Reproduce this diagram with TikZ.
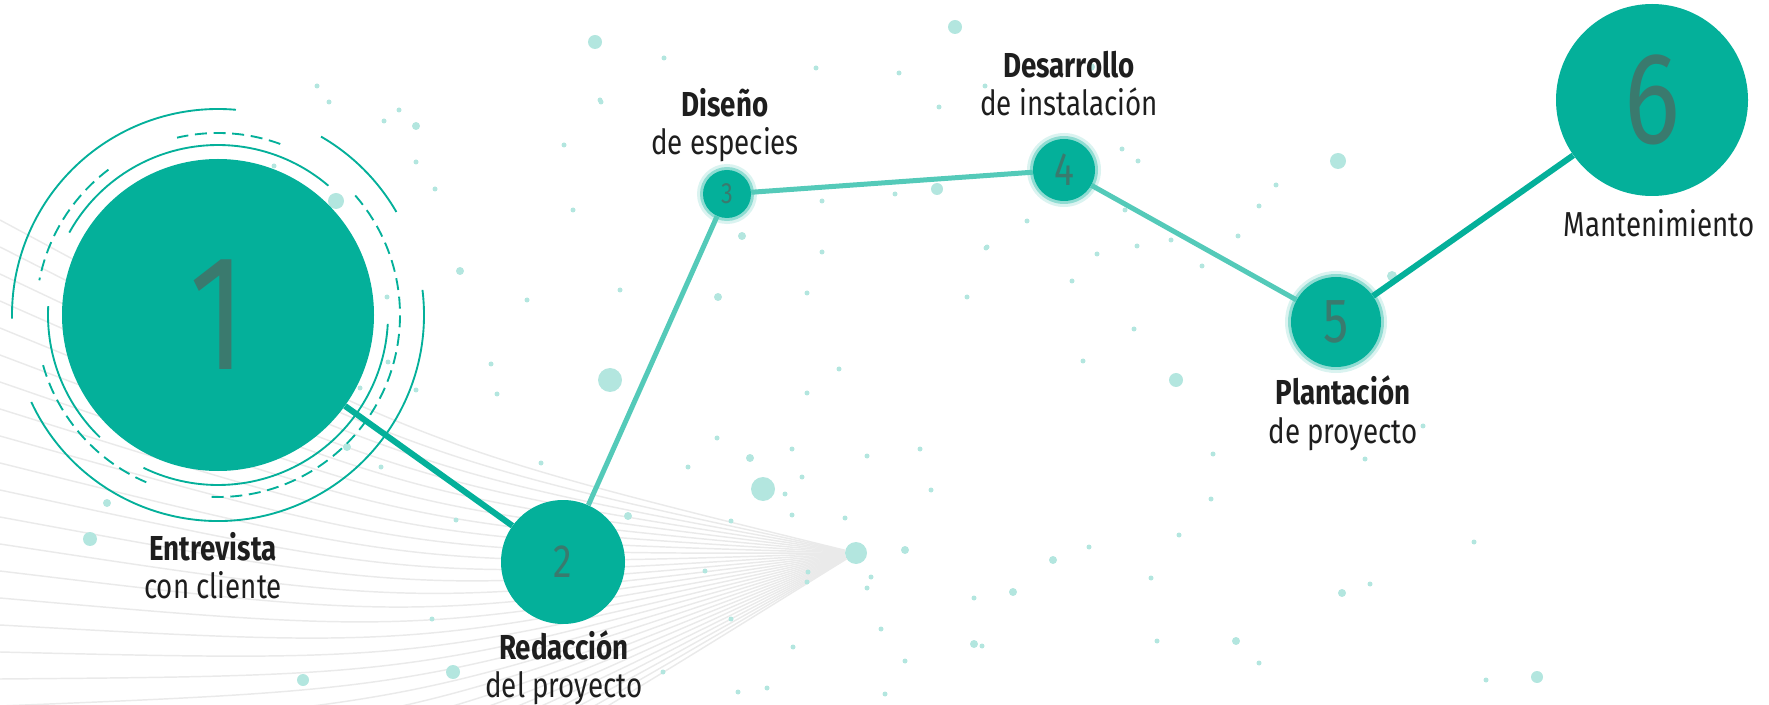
\documentclass[tikz,border=0pt]{standalone}
\usepackage{fontspec}
\setmainfont{Fira Sans}[FakeStretch=0.8]
\newfontfamily\numfont{Fira Sans}[FakeStretch=0.8]
\usepackage{xcolor}
\usepackage{tikz}

\definecolor{stepteal}{RGB}{4,176,154}
\definecolor{steplight}{RGB}{84,202,185}
\definecolor{numgrey}{RGB}{58,122,110}
\definecolor{dotteal}{RGB}{179,230,223}
\definecolor{fangrey}{RGB}{234,234,234}
\definecolor{txtdark}{RGB}{30,30,30}

\tikzset{
  stepnode/.style={circle, fill=stepteal, inner sep=0pt, text=numgrey},
  glow/.style={preaction={draw=stepteal, draw opacity=.15, line width=9pt},
               preaction={draw=stepteal, draw opacity=.35, line width=4.5pt}},
  stepline/.style={stepteal, line width=3.75pt},
  ring/.style={stepteal, line width=1.4pt},
  dashring/.style={ring, dash pattern=on 9pt off 5pt},
  fanline/.style={fangrey, line width=1.1pt},
  fandot/.style={circle, fill=dotteal, inner sep=0pt, minimum size=16.5pt},
  steptext/.style={anchor=base, align=center, inner sep=0pt, text=txtdark,
                   font=\fontsize{26}{28.5}\selectfont},
}

\begin{document}
\begin{tikzpicture}[x=0.75pt,y=0.75pt,yscale=-1,xscale=1]
\useasboundingbox (0,0) rectangle (1769,705);

%Fan of lines
\node[fandot] (fan) at (856,553) {};
\begin{scope}
\clip (0,0) rectangle (1769,705);
\foreach \y in {220,247,...,1000}
  \draw[fanline] (0,\y) .. controls (420,{0.5*\y+336}) .. (fan);
\end{scope}

%Dots
\foreach \x/\y/\r in {595/42/7, 955/27/7, 336/201/8, 610/380/12, 763/489/12, 1338/161/8,
  1176/380/7, 937/189/6, 90/539/7, 303/680/6, 453/672/7, 1537/677/6, 1392/276/5,
  750/458/4, 628/516/4, 905/550/4, 974/644/4, 742/236/4, 718/297/4, 416/126/4,
  347/447/4, 107/503/4, 460/271/4, 1091/67/4, 1342/593/4, 1236/641/4, 1053/560/4, 1013/592/4}
  \fill[dotteal] (\x,\y) circle (\r);
\foreach \x/\y in {541/463, 456/520, 432/619, 688/467, 792/449, 802/477, 785/494, 792/515,
  867/456, 920/449, 931/490, 845/518, 731/521, 705/571, 808/572, 807/582, 871/577, 867/588,
  974/598, 731/619, 881/629, 793/647, 905/661, 663/672, 738/692, 767/688, 664/58, 816/68,
  899/73, 939/107, 985/86, 1122/149, 895/194, 822/201, 822/252, 986/248, 1097/254, 1171/240,
  620/290, 807/293, 600/100, 317/86, 384/121, 416/162, 274/166, 387/297, 388/362, 360/388,
  416/390, 381/467, 435/189, 491/364, 497/394, 1423/426, 1365/459, 1238/236, 1276/185,
  1083/361, 1211/499, 1370/584, 1474/542, 1486/680, 1157/641, 1259/663, 1179/535, 1151/578,
  1089/547, 982/646, 885/694, 1213/454, 1134/329, 1202/266, 1125/210, 1072/281, 987/247,
  967/297, 1259/206, 601/102, 564/145, 573/210, 527/300, 839/369, 807/393, 717/438,
  399/110, 329/102, 1138/161, 1137/246, 1027/221}
  \fill[dotteal] (\x,\y) circle (2.5);

%Rings round the first step
\begin{scope}[shift={(218,315)}, yscale=-1]
\draw[ring] (85:206) arc[start angle=85, end angle=181, radius=206];
\draw[ring] (30:206) arc[start angle=30, end angle=60, radius=206];
\draw[ring] (205:206) arc[start angle=205, end angle=367, radius=206];
\draw[dashring] (70:182) arc[start angle=70, end angle=103, radius=182];
\draw[dashring] (127:182) arc[start angle=127, end angle=169, radius=182];
\draw[dashring] (196:182) arc[start angle=196, end angle=248, radius=182];
\draw[dashring] (268:182) arc[start angle=268, end angle=401.5, radius=182];
\draw[ring] (49.5:170) arc[start angle=49.5, end angle=151, radius=170];
\draw[ring] (177:170) arc[start angle=177, end angle=226, radius=170];
\draw[ring] (244:170) arc[start angle=244, end angle=357, radius=170];
\end{scope}

%Shape: Circle
\node[stepnode, minimum size=234pt, font=\numfont\fontsize{123}{123}\selectfont] (c1) at (218,315) {1};
\node[stepnode, minimum size=93pt, font=\numfont\fontsize{35}{35}\selectfont] (c2) at (563,562) {2};
\node[stepnode, glow, minimum size=36pt, font=\numfont\fontsize{22}{22}\selectfont] (c3) at (727,194) {3};
\node[stepnode, glow, minimum size=46.5pt, font=\numfont\fontsize{35}{35}\selectfont] (c4) at (1064,170) {4};
\node[stepnode, glow, minimum size=67.5pt, font=\numfont\fontsize{47}{47}\selectfont] (c5) at (1336,322) {5};
\node[stepnode, minimum size=144pt, font=\numfont\fontsize{98}{98}\selectfont] (c6) at (1652,100) {6};

%Straight Lines
\draw[stepline, line width=4.5pt] (c1) -- (c2);
\draw[stepline, steplight] (c2) -- (c3);
\draw[stepline, steplight] (c3) -- (c4);
\draw[stepline, steplight] (c4) -- (c5);
\draw[stepline, line width=4.5pt] (c5) -- (c6);

% Text Node
\node[steptext] (t1) at (213,598) {\textbf{Entrevista}\\con cliente};
\node[steptext] (t2) at (564,697) {\textbf{Redacción}\\del proyecto};
\node[steptext] (t3) at (725,155) {\textbf{Diseño}\\de especies};
\node[steptext] (t4) at (1069,116) {\textbf{Desarrollo}\\de instalación};
\node[steptext] (t5) at (1343,443) {\textbf{Plantación}\\de proyecto};
\node[steptext] (t6) at (1659,237) {Mantenimiento};

\end{tikzpicture}
\end{document}
